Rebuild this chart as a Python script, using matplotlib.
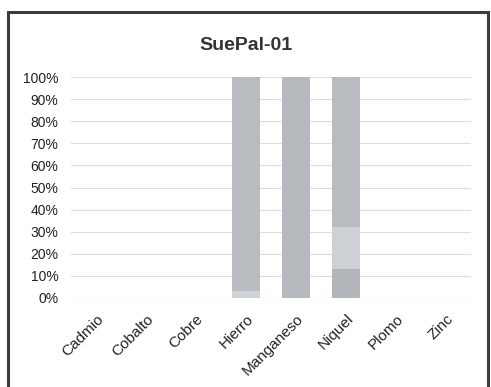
import matplotlib
matplotlib.use("Agg")
import matplotlib.pyplot as plt
from matplotlib.patches import Rectangle

plt.rcParams["font.family"] = ["Liberation Sans", "DejaVu Sans"]

metales = ["Cadmio", "Cobalto", "Cobre", "Hierro", "Manganeso", "Niquel", "Plomo", "Zinc"]
# stacked 100% segments, bottom to top
seg_a = [0, 0, 0, 3, 100, 13, 0, 0]
seg_b = [0, 0, 0, 0, 0, 19, 0, 0]
seg_c = [0, 0, 0, 97, 0, 68, 0, 0]

fig = plt.figure(figsize=(4.91, 3.87), dpi=100)
fig.patches.append(Rectangle((8 / 491, -0.01), 480 / 491, 1 - 12 / 387 + 0.01,
                             transform=fig.transFigure, fill=False,
                             edgecolor="#3a3d3a", linewidth=2.2))

ax = fig.add_axes([0.1446, 0.230, 0.815, 0.571])
x = range(len(metales))
w = 0.56
ax.bar(x, seg_a, w, color=["#b4b7bc", "#b4b7bc", "#b4b7bc", "#cfd2d6", "#b6b9be", "#b2b5ba", "#b4b7bc", "#b4b7bc"])
ax.bar(x, seg_b, w, bottom=seg_a, color="#cdd0d4")
bot = [a + b for a, b in zip(seg_a, seg_b)]
ax.bar(x, seg_c, w, bottom=bot, color="#b8bbc0")

ax.set_xlim(-0.5, len(metales) - 0.5)
ax.set_ylim(0, 100)
ax.set_yticks(range(0, 101, 10))
ax.set_yticklabels([f"{v}%" for v in range(0, 101, 10)], fontsize=10, color="#222222")
ax.set_xticks(list(x))
ax.set_xticklabels(metales, rotation=45, ha="right", rotation_mode="anchor", fontsize=11, color="#222222")
ax.tick_params(axis="y", length=0, pad=9)
ax.tick_params(axis="x", length=0, pad=10)
ax.grid(axis="y", color="#dedede", linewidth=0.8)
ax.set_axisbelow(True)
for s in ax.spines.values():
    s.set_visible(False)
ax.axhline(0, color="#d4d4d4", linewidth=0.8)

fig.text(0.5, 1 - 45 / 387, "SuePal-01", ha="center", va="center",
         fontsize=14, fontweight="bold", color="#333333")

fig.savefig("out.png", dpi=100)
